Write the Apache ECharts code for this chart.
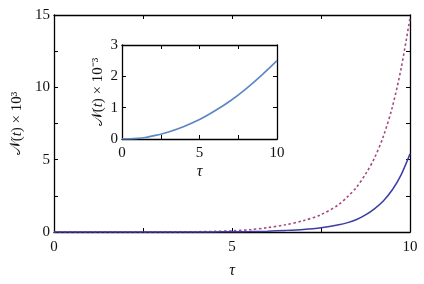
<!DOCTYPE html>
<html><head><meta charset="utf-8">
<script src="https://cdn.jsdelivr.net/npm/echarts@6/dist/echarts.min.js"></script>
<style>html,body{margin:0;padding:0;background:#fff}#c{width:424px;height:284px}</style>
</head><body><div id="c"></div>
<script>
// Main panel data
var tauMain = [0,1,2,3,4,4.5,5,5.5,6,6.5,7,7.5,8,8.25,8.5,8.75,9,9.25,9.5,9.75,10];
var solidMain = [0,0,0,0,0.003,0.007,0.015,0.03,0.06,0.11,0.18,0.3,0.5,0.65,0.86,1.18,1.6,2.15,2.9,3.95,5.4];
var dashedMain = [0,0,0,0.005,0.02,0.04,0.08,0.16,0.3,0.5,0.78,1.2,1.9,2.45,3.1,4.0,5.1,6.6,8.6,11.3,14.8];
// Inset data
var tauInset = [0,0.5,1,1.5,2,2.5,3,4,5,6,7,8,9,10];
var valInset = [0,0.005,0.02,0.05,0.1,0.15,0.22,0.4,0.62,0.9,1.22,1.6,2.03,2.5];
// Tick labels
var mainXLabels = [0,5,10];
var mainYLabels = [0,5,10,15];
var insetXLabels = [0,5,10];
var insetYLabels = [0,1,2,3];

function pairs(x,y){return x.map(function(v,i){return [v,y[i]];});}
var FONT = 'Liberation Serif';
var lineC = '#000';
function mkAxis(o){
  var base = {
    type:'value', gridIndex:o.grid, min:o.min, max:o.max, interval:o.interval,
    position:o.position,
    axisLine:{show:true,onZero:false,lineStyle:{color:lineC,width:1.3}},
    axisTick:{show:true,inside:true,length:4,lineStyle:{color:lineC,width:1}},
    splitLine:{show:false},
    axisLabel:{show:!!o.labels,color:'#111',fontFamily:FONT,fontSize:15,margin:o.margin||5,
      formatter:function(v){return (o.labels && o.labels.indexOf(v)>=0)?String(v):'';}}
  };
  if(o.name){
    base.name=o.name; base.nameLocation='middle'; base.nameGap=o.nameGap;
    base.nameTextStyle={color:'#111',fontFamily:FONT,fontSize:16,fontStyle:o.italic?'italic':'normal',
      rich:{i:{fontFamily:FONT,fontSize:15,fontStyle:'italic',color:'#111'},
            n:{fontFamily:FONT,fontSize:15,color:'#111'},
            s:{fontFamily:'DejaVu Serif',fontSize:15,color:'#111'}}};
  }
  return base;
}
var chart = echarts.init(document.getElementById('c'));
chart.setOption({
  animation:false,
  backgroundColor:'#fff',
  grid:[
    {left:54,right:14,top:15,bottom:51,show:false},
    {left:122,width:155,top:45,height:94,show:true,backgroundColor:'#fff',borderWidth:0}
  ],
  xAxis:[
    mkAxis({grid:0,min:0,max:10,interval:2.5,position:'bottom',labels:mainXLabels,margin:8,name:'τ',nameGap:31,italic:true}),
    mkAxis({grid:0,min:0,max:10,interval:2.5,position:'top'}),
    mkAxis({grid:1,min:0,max:10,interval:2.5,position:'bottom',labels:insetXLabels,margin:7,name:'τ',nameGap:25,italic:true}),
    mkAxis({grid:1,min:0,max:10,interval:2.5,position:'top'})
  ],
  yAxis:[
    mkAxis({grid:0,min:0,max:15,interval:2.5,position:'left',labels:mainYLabels,margin:4,name:'{s|𝒩}{n|(}{i|t}{n|) × 10³}',nameGap:26}),
    mkAxis({grid:0,min:0,max:15,interval:2.5,position:'right'}),
    mkAxis({grid:1,min:0,max:3,interval:1,position:'left',labels:insetYLabels,margin:4,name:'{s|𝒩}{n|(}{i|t}{n|) × 10⁻³}',nameGap:16}),
    mkAxis({grid:1,min:0,max:3,interval:1,position:'right'})
  ],
  series:[
    {type:'line',xAxisIndex:0,yAxisIndex:0,data:pairs(tauMain,dashedMain),smooth:0.3,showSymbol:false,
     lineStyle:{color:'#a24a80',width:1.6,type:[2.5,2.5]},z:3},
    {type:'line',xAxisIndex:0,yAxisIndex:0,data:pairs(tauMain,solidMain),smooth:0.3,showSymbol:false,
     lineStyle:{color:'#3c3ca6',width:1.5},z:3},
    {type:'line',xAxisIndex:2,yAxisIndex:2,data:pairs(tauInset,valInset),smooth:0.3,showSymbol:false,
     lineStyle:{color:'#5c86c4',width:1.6},z:3}
  ]
});
</script></body></html>
